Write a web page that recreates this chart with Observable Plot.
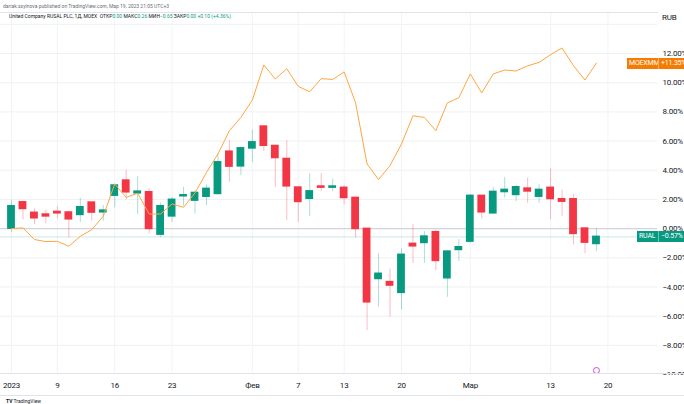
<!DOCTYPE html>
<html><head><meta charset="utf-8">
<script src="https://cdn.jsdelivr.net/npm/d3@7"></script>
<script src="https://cdn.jsdelivr.net/npm/@observablehq/plot@0.6"></script>
<style>
body{margin:0;background:#fff;width:684px;height:404px;overflow:hidden;position:relative;font-family:Roboto,sans-serif;}
#chart{position:absolute;left:0;top:0;}
.ov{position:absolute;white-space:nowrap;}
.h1{left:3px;top:3px;font-size:5px;color:#6a6d78;}
.h2{left:9px;top:13px;font-size:5px;color:#131722;}
.h2 b{font-weight:normal;color:#089981;}
.box{position:absolute;height:11px;line-height:11px;font-size:7px;letter-spacing:-0.2px;color:#fff;padding:0 2px;box-sizing:border-box;overflow:hidden;}
.logo{left:6px;top:398px;font-size:5px;color:#131722;}
.rub{left:662px;top:13px;font-size:8px;color:#131722;letter-spacing:-0.2px;}
.hl{position:absolute;left:0;width:684px;height:1px;background:#e0e3eb;}
</style></head><body>
<div id="chart"></div>
<div class="ov h1">dariak.ssylnova published on TradingView.com, Мар 19, 2023 21:05 UTC+3</div>
<div class="ov h2">United Company RUSAL PLC, 1Д, MOEX&nbsp; ОТКР<b>0.00</b> МАКС<b>0.26</b> МИН<b>−0.65</b> ЗАКР<b>0.00</b> <b>+0.10 (+4.36%)</b></div>
<div class="ov rub">RUB</div>
<div class="ov logo"><b>TV</b> TradingView</div>
<script>
const dates = ["2023-01-03","2023-01-04","2023-01-05","2023-01-06","2023-01-09","2023-01-10","2023-01-11","2023-01-12","2023-01-13",
"2023-01-16","2023-01-17","2023-01-18","2023-01-19","2023-01-20","2023-01-23","2023-01-24","2023-01-25","2023-01-26","2023-01-27",
"2023-01-30","2023-01-31","2023-02-01","2023-02-02","2023-02-03","2023-02-06","2023-02-07","2023-02-08","2023-02-09","2023-02-10",
"2023-02-13","2023-02-14","2023-02-15","2023-02-16","2023-02-17","2023-02-20","2023-02-21","2023-02-22","2023-02-24","2023-02-27",
"2023-02-28","2023-03-01","2023-03-02","2023-03-03","2023-03-06","2023-03-07","2023-03-09","2023-03-10","2023-03-13","2023-03-14",
"2023-03-15","2023-03-16","2023-03-17"];
const futureDates = ["2023-03-20","2023-03-21","2023-03-22","2023-03-23","2023-03-24"];
const openPct  = [0,1.80,1.08,0.96,1.14,1.10,0.94,1.78,1.12,2.26,3.29,2.42,2.49,-0.41,0.84,2.22,1.92,2.19,2.38,5.27,4.27,5.50,6.99,5.66,4.77,2.81,2.05,2.88,2.81,2.79,2.10,-0.02,-3.45,-3.67,-4.40,-1.05,-0.98,-0.25,-3.40,-1.46,-0.89,2.24,1.05,2.51,2.31,2.74,2.19,2.79,2.01,2.01,0.00,-1.05];
const highPct  = [1.95,1.88,1.35,1.28,1.50,1.20,2.08,1.80,1.58,3.06,4.02,3.56,2.72,1.76,2.14,2.83,2.60,3.00,5.12,6.03,5.60,6.76,7.05,5.70,6.03,2.85,3.75,3.75,3.40,2.95,2.12,0.00,-1.73,-2.76,-1.39,0.27,-0.21,-0.15,-1.50,-0.75,2.35,2.26,2.83,3.51,2.95,3.47,3.01,4.13,2.65,2.33,0.05,-0.02];
const lowPct   = [-0.25,0.60,0.27,0.32,0.66,-0.64,0.43,0.50,0.50,1.42,1.97,0.96,-0.36,-0.60,0.43,1.53,1.00,1.58,2.30,3.17,3.63,4.54,5.29,2.83,0.55,0.43,0.84,2.53,2.53,1.62,-0.66,-6.99,-5.39,-6.07,-5.57,-2.38,-2.38,-2.88,-4.71,-2.24,-1.00,0.66,1.00,2.10,1.85,1.73,1.73,0.62,0.82,-1.12,-1.73,-1.58];
const closePct = [1.53,1.35,0.71,0.84,1.05,0.64,1.46,1.10,1.23,2.95,2.49,2.53,-0.02,1.53,1.97,2.28,2.44,2.72,4.54,4.25,5.50,5.91,5.68,4.84,2.90,1.83,2.55,2.81,2.88,2.10,-0.02,-5.05,-3.10,-3.90,-1.80,-1.21,-0.55,-2.21,-1.58,-1.28,2.24,1.12,2.51,2.65,2.83,2.55,2.65,2.03,1.85,-0.36,-0.96,-0.57];
const moexPct  = [0.00,0.05,-0.75,-0.89,-0.87,-1.21,-0.53,-0.07,0.85,3.06,2.14,2.42,1.00,1.00,1.69,1.46,2.45,3.85,5.12,6.71,7.62,8.81,11.22,10.25,10.96,9.74,9.38,10.28,10.22,10.74,8.62,4.43,3.36,4.32,5.80,7.73,7.62,6.71,8.61,8.97,10.60,9.30,10.60,10.87,10.80,11.16,11.39,11.92,12.38,11.16,10.18,11.35];
const tickDates  = ["2023-01-03","2023-01-09","2023-01-16","2023-01-23","2023-02-01","2023-02-07","2023-02-13","2023-02-20","2023-03-01","2023-03-13","2023-03-20"];
const tickLabels = ["2023","9","16","23","Фев","7","13","20","Мар","13","20"];
const yTicks = [-10,-8,-6,-4,-2,0,2,4,6,8,10,12];
const gridTicks = [-8,-6,-4,-2,0,2,4,6,8,10,12,14];
const seriesNames = ["MOEXMM","RUAL"];
const eventDate = "2023-03-17";

const days = dates.concat(futureDates);
const idx = d => days.indexOf(d);
const candles = dates.map((d,i)=>({i, o:openPct[i], h:highPct[i], l:lowPct[i], c:closePct[i], up: closePct[i] >= openPct[i]}));
const moex = dates.map((d,i)=>({i, v:moexPct[i]}));
const tickIdx = tickDates.map(idx);
const UP = "#089981", DN = "#f23645", OR = "#f57c00";
const fmt = v => (v < 0 ? "−" : "") + Math.abs(v).toFixed(2) + "%";

const W = 684, H = 404, mR = 27, mT = 12, mB = 31;
const step = 11.47;
const d0 = -11/step, d1 = d0 + (W - mR)/step;
const pxPerPct = 14.59;
const yTop = (228.1 - mT)/pxPerPct, yBot = (228.1 - (H - mB))/pxPerPct;

const chart = Plot.plot({
  width: W, height: H, marginLeft: 0, marginRight: mR, marginTop: mT, marginBottom: mB,
  x: {type: "linear", domain: [d0, d1], axis: null},
  y: {domain: [yBot, yTop], axis: null},
  style: {fontFamily: 'Roboto,sans-serif', fontSize: "8px", color: "#131722", background: "transparent", overflow: "visible", letterSpacing: "-0.2px"},
  marks: [
    Plot.gridY(gridTicks, {stroke: "#eef0f4", strokeOpacity: 1}),
    Plot.gridX(tickIdx, {stroke: "#f1f3f6", strokeOpacity: 1}),
    Plot.frame({anchor: "top", stroke: "#e0e3eb"}),
    Plot.ruleY([0], {stroke: "#d1d4dc", strokeWidth: 1.2}),
    Plot.ruleY([closePct[closePct.length-1]], {stroke: UP, strokeOpacity: 0.22}),
    Plot.ruleX(candles, {x: "i", y1: "l", y2: "h", stroke: d => d.up ? UP : DN, strokeOpacity: 0.33, strokeWidth: 1}),
    Plot.rect(candles, {x1: d => d.i - 0.34, x2: d => d.i + 0.34, y1: "o", y2: "c", fill: d => d.up ? UP : DN, insetTop: -0.8, insetBottom: -0.8}),
    Plot.line(moex, {x: "i", y: "v", stroke: "#ffa640", strokeWidth: 1}),
    Plot.axisY(yTicks, {anchor: "right", label: null, tickSize: 0, tickPadding: 5, tickFormat: fmt, fill: "#131722"}),
    Plot.axisX(tickIdx, {anchor: "bottom", label: null, tickSize: 0, tickPadding: 9, tickFormat: (d, i) => tickLabels[i], fill: "#131722"}),
    Plot.dot([idx(eventDate)], {x: d => d, frameAnchor: "bottom", dy: -3, r: 3, stroke: "#c54fd0", fill: "white", strokeWidth: 1})
  ]
});
document.getElementById("chart").appendChild(chart);

// cover for the clipped bottom axis label area, and pane separators
const cover = document.createElement("div");
cover.className = "ov";
Object.assign(cover.style, {left: (W - mR + 1) + "px", top: (H - mB + 2) + "px", width: "40px", height: "18px", background: "#fff"});
document.body.appendChild(cover);
for (const t of [H - mB, 395]) {
  const l = document.createElement("div");
  l.className = "hl"; l.style.top = t + "px";
  document.body.appendChild(l);
}

// last-value labels
const ys = chart.scale("y");
function label(name, value, color, leftName) {
  const y = ys.apply(value);
  const a = document.createElement("div");
  a.className = "box"; a.textContent = name;
  Object.assign(a.style, {left: leftName + "px", top: (y - 5) + "px", width: (658 - leftName) + "px", background: color});
  const b = document.createElement("div");
  b.className = "box"; b.textContent = (value >= 0 ? "+" : "") + fmt(value);
  Object.assign(b.style, {left: "658px", top: (y - 5) + "px", width: "30px", background: color, borderLeft: "1px solid rgba(255,255,255,0.4)"});
  document.body.appendChild(a); document.body.appendChild(b);
}
label(seriesNames[0], moexPct[moexPct.length-1], OR, 627);
label(seriesNames[1], closePct[closePct.length-1], UP, 637);
</script>
</body></html>
